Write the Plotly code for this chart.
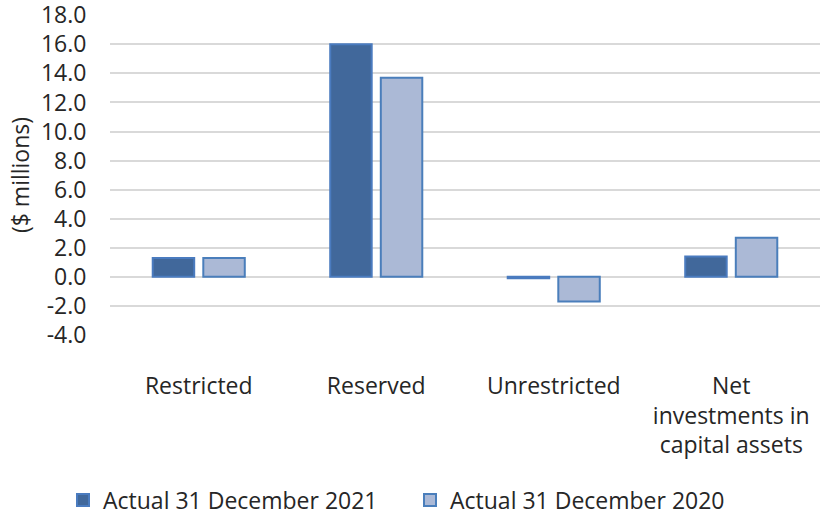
import plotly.graph_objects as go

categories = ["Restricted", "Reserved", "Unrestricted", "Net<br>investments in<br>capital assets"]
actual_2021 = [1.3, 16.0, -0.1, 1.4]
actual_2020 = [1.3, 13.7, -1.7, 2.7]
series_names = ["Actual 31 December 2021", "Actual 31 December 2020"]
y_ticks = [-4, -2, 0, 2, 4, 6, 8, 10, 12, 14, 16, 18]
y_tick_labels = ["-4.0", "-2.0", "0.0", "2.0", "4.0", "6.0", "8.0", "10.0", "12.0", "14.0", "16.0", "18.0"]

FONT = "Open Sans"
fig = go.Figure()
fig.add_trace(go.Bar(
    x=categories, y=actual_2021, name=series_names[0],
    marker=dict(color="#41689b", line=dict(color="#4a7bbf", width=2)),
))
fig.add_trace(go.Bar(
    x=categories, y=actual_2020, name=series_names[1],
    marker=dict(color="#abb9d6", line=dict(color="#4a7ebb", width=2)),
))

fig.update_layout(
    width=820, height=516,
    margin=dict(l=110, r=0, t=15, b=181),
    paper_bgcolor="white", plot_bgcolor="white",
    font=dict(family=FONT, size=23, color="#262626"),
    barmode="group", bargap=0.43, bargroupgap=0.18,
    showlegend=True,
    legend=dict(orientation="h", x=0.5, xanchor="center", xref="container",
                y=0.031, yanchor="middle", yref="container",
                font=dict(size=23), entrywidth=302, itemwidth=30,
                traceorder="normal"),
)
fig.update_yaxes(
    range=[-4, 18.02], tickvals=y_ticks, ticktext=y_tick_labels,
    showgrid=True, gridcolor="#d9d9d9", gridwidth=1.5,
    zeroline=False, showline=False, automargin=False,
    ticklabeloverflow="allow",
    ticks="outside", ticklen=18, tickcolor="rgba(0,0,0,0)",
    title=dict(text="($ millions)", standoff=4, font=dict(size=23)),
)
fig.update_xaxes(
    showgrid=False, showline=False, zeroline=False, automargin=False,
    ticks="outside", ticklen=30, tickcolor="rgba(0,0,0,0)",
)

fig.write_html("out.html")
